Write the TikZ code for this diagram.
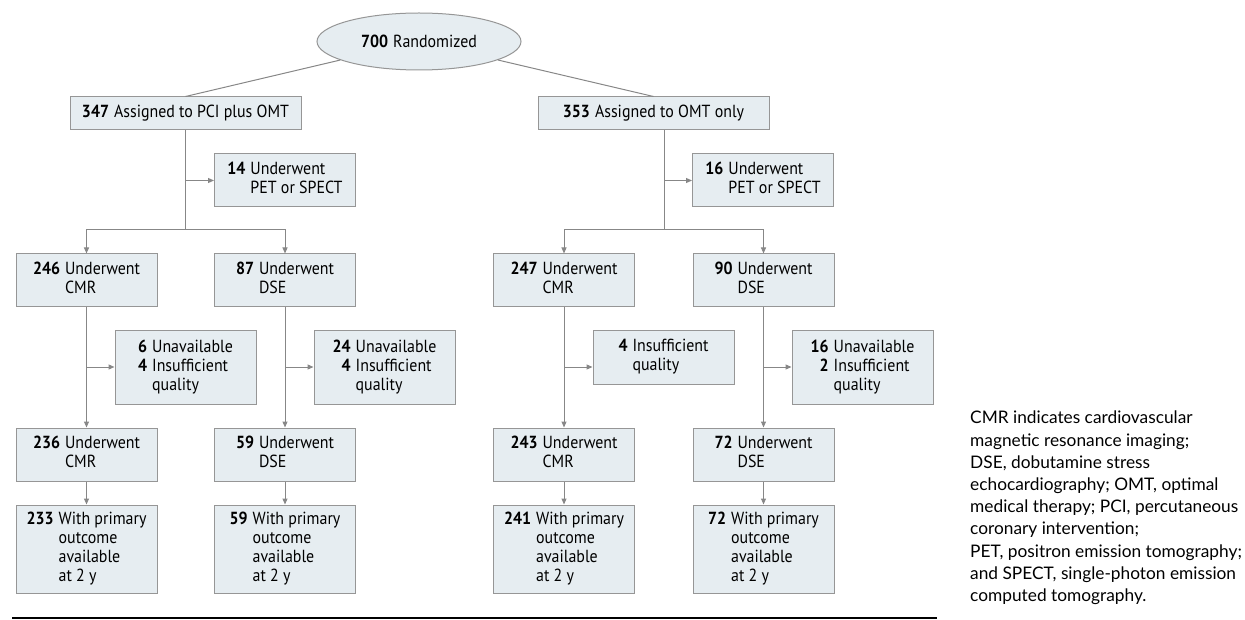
\documentclass[tikz,border=0pt]{standalone}
\usepackage{fontspec}
\setmainfont{PT Sans}[FakeStretch=0.91]
\newfontfamily\legendfont{Lato}
\usetikzlibrary{arrows.meta,shapes.geometric}

\definecolor{boxfill}{RGB}{230,237,241}
\definecolor{boxline}{RGB}{150,150,150}
\definecolor{linkline}{RGB}{135,135,135}

\newcommand{\cnts}[1]{\begin{tabular}{@{}r@{\hspace{5pt}}l@{}}#1\end{tabular}}

\begin{document}
\begin{tikzpicture}[x=1pt,y=-1pt,
  box/.style={draw=boxline,fill=boxfill,line width=1pt,inner sep=0pt,
    minimum width=141pt,minimum height=53pt,font=\fontsize{17.5}{19}\selectfont},
  link/.style={draw=linkline,line width=1pt},
  arr/.style={link,-{Triangle[length=6pt,width=5pt]}}]

\useasboundingbox (0,0) rectangle (1245,620);

\node[ellipse,draw=boxline,fill=boxfill,line width=1pt,inner sep=0pt,
  minimum width=204pt,minimum height=57pt,font=\fontsize{17.5}{19}\selectfont]
  (R) at (419,41.5) {\textbf{700}\hspace{5pt}Randomized};

\node[box,minimum width=231pt,minimum height=33pt] (P) at (185.5,113.5)
  {\cnts{\textbf{347} & Assigned to PCI plus OMT}};
\node[box,minimum width=231pt,minimum height=33pt] (O) at (653.5,113.5)
  {\cnts{\textbf{353} & Assigned to OMT only}};

\node[box] (PX) at (285,180.5) {\cnts{\textbf{14} & Underwent\\ & PET or SPECT}};
\node[box] (OX) at (763,180.5) {\cnts{\textbf{16} & Underwent\\ & PET or SPECT}};

% first test
\node[box] (PC) at (86.5,280.5) {\cnts{\textbf{246} & Underwent\\ & CMR}};
\node[box] (PD) at (285,280.5) {\cnts{\textbf{87} & Underwent\\ & DSE}};
\node[box] (OC) at (564,280.5) {\cnts{\textbf{247} & Underwent\\ & CMR}};
\node[box] (OD) at (763.5,280.5) {\cnts{\textbf{90} & Underwent\\ & DSE}};

% excluded
\node[box,minimum height=73pt] (PCX) at (185.5,367.5)
  {\cnts{\textbf{6} & Unavailable\\ \textbf{4} & Insufficient\\ & quality}};
\node[box,minimum height=73pt] (PDX) at (384.5,367.5)
  {\cnts{\textbf{24} & Unavailable\\ \textbf{4} & Insufficient\\ & quality}};
\node[box] (OCX) at (663.5,357.5)
  {\cnts{\textbf{4} & Insufficient\\ & quality}};
\node[box,minimum height=73pt] (ODX) at (862.5,367.5)
  {\cnts{\textbf{16} & Unavailable\\ \textbf{2} & Insufficient\\ & quality}};

% second test
\node[box] (PC2) at (86.5,454.5) {\cnts{\textbf{236} & Underwent\\ & CMR}};
\node[box] (PD2) at (285,454.5) {\cnts{\textbf{59} & Underwent\\ & DSE}};
\node[box] (OC2) at (564,454.5) {\cnts{\textbf{243} & Underwent\\ & CMR}};
\node[box] (OD2) at (763.5,454.5) {\cnts{\textbf{72} & Underwent\\ & DSE}};

% outcome
\node[box,minimum height=88pt] (PC3) at (86.5,549)
  {\cnts{\textbf{233} & With primary\\ & outcome\\ & available\\ & at 2 y}};
\node[box,minimum height=88pt] (PD3) at (285,549)
  {\cnts{\textbf{59} & With primary\\ & outcome\\ & available\\ & at 2 y}};
\node[box,minimum height=88pt] (OC3) at (564,549)
  {\cnts{\textbf{241} & With primary\\ & outcome\\ & available\\ & at 2 y}};
\node[box,minimum height=88pt] (OD3) at (763.5,549)
  {\cnts{\textbf{72} & With primary\\ & outcome\\ & available\\ & at 2 y}};

\coordinate (PS) at (185.5,230);
\coordinate (OS) at (664,230);
\coordinate (M) at (0,367);

\draw[link] (R) -- (P.north);
\draw[link] (R) -- (O.north);
\draw[link] (P.south) -- (PS);
\draw[link] (OS |- O.south) -- (OS);
\draw[arr] (PX.west -| PS) -- (PX.west);
\draw[arr] (OX.west -| OS) -- (OX.west);

\foreach \v in {PC,PD}
{
    \draw[arr] (PS) -| (\v.north);
}
\foreach \v in {OC,OD}
{
    \draw[arr] (OS) -| (\v.north);
}

\foreach \v/\x in {PC/PCX,PD/PDX,OC/OCX,OD/ODX}
{
    \draw[arr] (\v.south) -- (\v2.north);
    \draw[arr] (\v.south |- M) -- (\x.west |- M);
    \draw[arr] (\v2.south) -- (\v3.north);
}

\draw[line width=1.5pt] (12,618) -- (937,618);

\node[anchor=north west,align=left,inner sep=0pt,
  font=\legendfont\fontsize{17.3}{22.2}\selectfont] (L) at (970,411)
  {CMR indicates cardiovascular\\
   magnetic resonance imaging;\\
   DSE, dobutamine stress\\
   echocardiography; OMT, optimal\\
   medical therapy; PCI, percutaneous\\
   coronary intervention;\\
   PET, positron emission tomography;\\
   and SPECT, single-photon emission\\
   computed tomography.};

\end{tikzpicture}
\end{document}
